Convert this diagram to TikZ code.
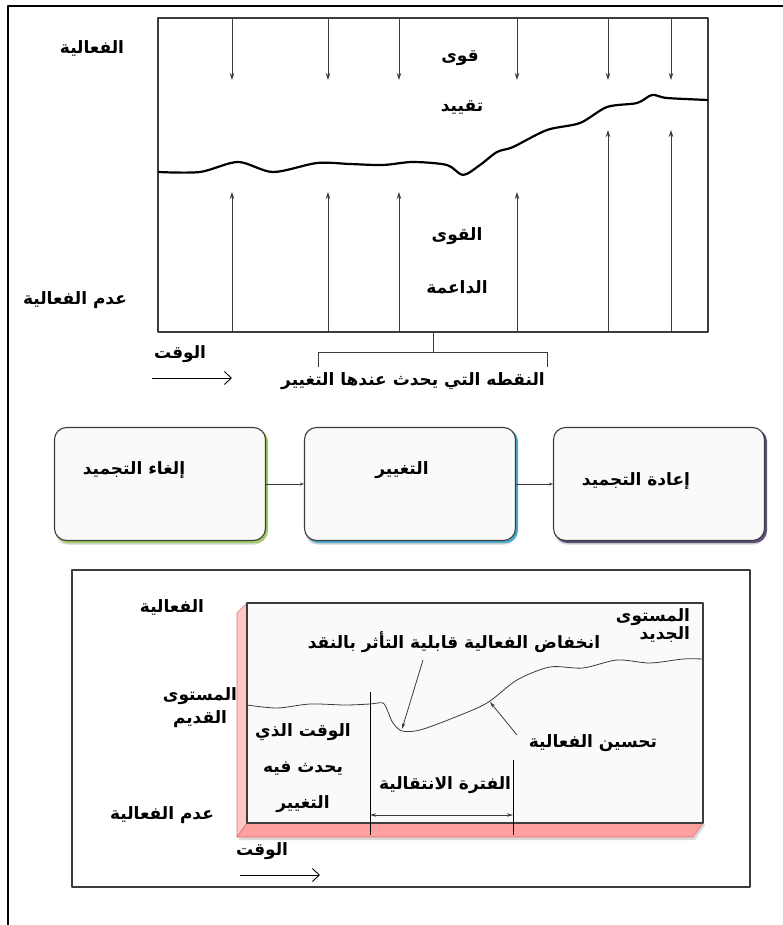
\documentclass[tikz,border=0pt]{standalone}
\usepackage{fontspec}
\usetikzlibrary{arrows.meta,calc,positioning,shadows}
\TeXXeTstate=1
\newfontfamily\arabicfont[Script=Arabic]{DejaVu Sans Bold}
\newcommand{\rl}[1]{\beginR#1\endR}
\definecolor{linegray}{RGB}{60,60,60}
\definecolor{boxfill}{RGB}{250,250,250}
\definecolor{edgegreen}{RGB}{160,205,95}
\definecolor{edgecyan}{RGB}{75,172,205}
\definecolor{edgepurple}{RGB}{95,80,125}
\definecolor{pinkside}{RGB}{255,200,200}
\definecolor{pinkbase}{RGB}{255,160,160}
\definecolor{pinkline}{RGB}{225,110,110}

\begin{document}
\begin{tikzpicture}[x=1pt,y=-1pt,line cap=butt,line join=round,
  every node/.append style={font=\arabicfont\fontsize{17}{21}\selectfont},
  txt/.style={inner sep=1pt,align=center},
  force/.style={linegray,line width=0.9pt,-{Stealth[length=7pt,width=4.5pt]}},
  timeline/.style={black,line width=0.9pt,-{Straight Barb[length=7pt,width=13pt]}},
  pointer/.style={linegray,line width=0.8pt,-{Stealth[length=6pt,width=3.5pt]}},
  stagebox/.style={rectangle,rounded corners=12pt,draw=linegray,line width=1.1pt,
    fill=boxfill,minimum width=211pt,minimum height=113pt,
    drop shadow={shadow xshift=1pt,shadow yshift=-4pt,opacity=0.35},
    copy shadow={shadow xshift=2pt,shadow yshift=-2pt,fill=#1,draw=#1}}]

\useasboundingbox (0,0) rectangle (783,925);

% ============================ page frame ==============================
\draw[black,line width=1.6pt] (8,925) -- (8,6) -- (783,6);

% ============================= top panel ==============================
\draw[linegray,line width=1.1pt] (158,18) rectangle (708,332);
% restraining forces (down) and driving forces (up)
\foreach \x in {232,328,399,517,608,671}
  \draw[force] (\x,18) -- (\x,80);
\foreach \x in {232,328,399,517}
  \draw[force] (\x,332) -- (\x,192);
\foreach \x in {608,671}
  \draw[force] (\x,332) -- (\x,130);

% effectiveness level
\draw[black,line width=2.2pt] plot[smooth,tension=0.5] coordinates {
  (158,172) (200,172) (238,162) (273,172) (317,163) (350,164) (383,165)
  (413,162) (447,165) (463,175) (480,165) (497,152) (513,147) (547,130)
  (580,123) (607,107) (637,103) (652,95) (667,98) (708,100)};

\node[txt] (effTop)   at (92,48)   {\rl{الفعالية}};
\node[txt] (ineffTop) at (75,300)  {\rl{عدم الفعالية}};
\node[txt] (restA)    at (460,58)  {\rl{قوى}};
\node[txt] (restB)    at (462,108) {\rl{تقييد}};
\node[txt] (drivA)    at (457,236) {\rl{القوى}};
\node[txt] (drivB)    at (457,287) {\rl{الداعمة}};

% point of change
\draw[linegray,line width=1pt] (433,332) -- (433,352);
\draw[linegray,line width=1pt] (318,367) -- (318,352) -- (547,352) -- (547,367);
\node[txt] (pointTxt) at (413,381) {\rl{النقطه التي يحدث عندها التغيير}};

\node[txt] (timeTop) at (180,354) {\rl{الوقت}};
\coordinate (tTopA) at (152,378);
\coordinate (tTopB) at (232,378);
\draw[timeline] (tTopA) -- (tTopB);

% ============================ three stages ============================
\node[stagebox=edgegreen]  (b1) at (160,484) {};
\node[stagebox=edgecyan]   (b2) at (410,484) {};
\node[stagebox=edgepurple] (b3) at (659,484) {};
\node[txt] (t1) at (134,470) {\rl{إلغاء التجميد}};
\node[txt] (t2) at (402,470) {\rl{التغيير}};
\node[txt] (t3) at (636,481) {\rl{إعادة التجميد}};
\draw[linegray,line width=0.9pt,-{Stealth[length=4pt,width=3pt]}] (b1) -- (b2);
\draw[linegray,line width=0.9pt,-{Stealth[length=4pt,width=3pt]}] (b2) -- (b3);

% ============================ bottom panel ============================
\draw[linegray,line width=1.1pt] (72,570) rectangle (750,887);

% extruded plate
\fill[black,opacity=0.15] (239,837) -- (693,837) -- (703,823) -- (705,825) -- (695,840) -- (239,840) -- cycle;
\filldraw[fill=pinkside,draw=pinkline,line width=0.6pt]
  (247,603) -- (237,613) -- (237,837) -- (247,823) -- cycle;
\filldraw[fill=pinkbase,draw=pinkline,line width=0.6pt]
  (247,823) -- (237,837) -- (693,837) -- (703,823) -- cycle;
\filldraw[fill=boxfill,draw=linegray,line width=1.1pt] (247,603) rectangle (703,823);

% effectiveness during the change
\draw[linegray,line width=0.8pt] plot[smooth,tension=0.5] coordinates {
  (247,705) (277,708) (310,704) (345,705) (370,704) (383,703) (388,712)
  (393,723) (402,731) (420,730) (453,718) (487,703) (517,680) (550,667)
  (583,668) (617,660) (650,663) (683,659) (703,659)};

% transition period
\draw[black,line width=0.8pt] (370,692) -- (370,835);
\draw[black,line width=0.8pt] (513,760) -- (513,835);
\coordinate (perA) at (370,815);
\coordinate (perB) at (513,815);
\draw[linegray,line width=0.8pt,{Stealth[length=6pt,width=3.5pt]}-{Stealth[length=6pt,width=3.5pt]}] (perA) -- (perB);

\node[txt] (effBot)    at (172,607) {\rl{الفعالية}};
\node[txt] (ineffBot)  at (162,815) {\rl{عدم الفعالية}};
\node[txt,font=\arabicfont\fontsize{17}{23}\selectfont] (oldLvl) at (200,708)
  {\rl{المستوى}\\\rl{القديم}};
\node[txt,align=right,font=\arabicfont\fontsize{17}{18}\selectfont] (newLvl) at (653,626)
  {\rl{المستوى}\\\rl{الجديد}};
\node[txt] (dropTxt)   at (454,642) {\rl{انخفاض الفعالية قابلية التأثر بالنقد}};
\node[txt] (impTxt)    at (593,743) {\rl{تحسين الفعالية}};
\node[txt] (periodTxt) at (445,785) {\rl{الفترة الانتقالية}};
\node[txt,font=\arabicfont\fontsize{17}{36}\selectfont] (whenTxt) at (303,768)
  {\rl{الوقت الذي}\\\rl{يحدث فيه}\\\rl{التغيير}};

\coordinate (dropFrom) at (423,660);
\coordinate (dropTo)   at (402,729);
\draw[pointer] (dropFrom) -- (dropTo);
\coordinate (impFrom) at (517,735);
\coordinate (impTo)   at (490,702);
\draw[pointer] (impFrom) -- (impTo);

\node[txt] (timeBot) at (262,851) {\rl{الوقت}};
\coordinate (tBotA) at (240,875);
\coordinate (tBotB) at (320,875);
\draw[timeline] (tBotA) -- (tBotB);

\end{tikzpicture}
\end{document}
